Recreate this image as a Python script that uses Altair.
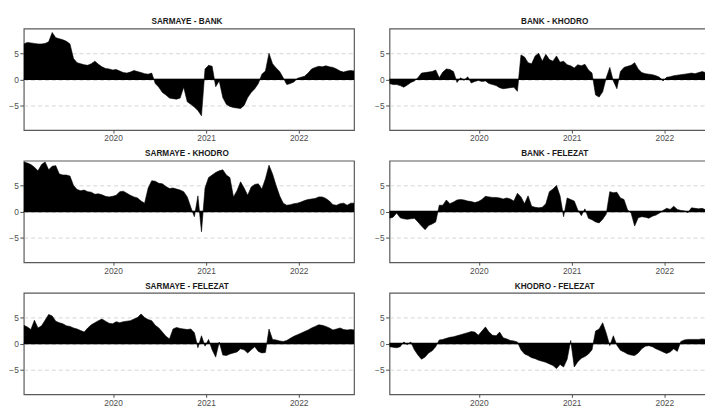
import altair as alt
import pandas as pd

# bi-weekly sampling grid of the series
dates = pd.date_range("2019-01-14", periods=94, freq="14D")

titles = ["SARMAYE - BANK", "BANK - KHODRO", "SARMAYE - KHODRO",
          "BANK - FELEZAT", "SARMAYE - FELEZAT", "KHODRO - FELEZAT"]

sarmaye_bank = [
    6.8, 7.1, 7.0, 6.9, 6.8, 6.8, 6.9, 7.2, 9.0, 8.0,
    7.8, 7.6, 7.3, 6.8, 4.0, 3.2, 3.0, 2.8, 2.7, 3.0,
    3.5, 2.9, 2.4, 2.1, 2.0, 1.8, 1.9, 1.6, 1.3, 1.2,
    1.4, 1.7, 1.5, 1.3, 1.1, 1.0, 1.2, -0.8, -1.5, -2.5,
    -3.0, -3.6, -3.7, -3.8, -3.6, -1.5, -4.3, -4.8, -5.3, -6.0,
    -7.0, 2.0, 2.7, 2.5, -1.4, -0.3, -3.5, -4.8, -5.2, -5.4,
    -5.5, -5.6, -5.0, -3.5, -2.5, -1.8, -0.8, 1.0, 1.6, 5.0,
    3.0, 2.2, 1.5, 0.3, -1.0, -0.8, -0.5, 0.2, 0.4, 0.6,
    1.2, 2.0, 2.3, 2.5, 2.4, 2.6, 2.4, 2.3, 2.0, 1.6,
    1.4, 1.6, 1.7, 1.6]

bank_khodro = [
    -0.8, -1.0, -1.0, -1.2, -1.5, -1.1, -0.6, -0.3, 0.3, 1.2,
    1.3, 1.4, 1.5, 1.8, 0.3, 1.4, 2.0, 1.9, 1.5, -0.6,
    0.3, -0.2, 0.5, -0.7, -0.4, -0.2, -0.4, -0.3, -0.8, -1.0,
    -1.2, -1.6, -1.8, -1.7, -1.6, -1.5, -2.3, 4.7, 4.3, 3.2,
    3.0, 4.5, 5.0, 3.5, 4.8, 3.8, 3.5, 4.5, 3.3, 3.5,
    2.8, 2.6, 2.2, 2.8, 2.6, 2.9, 1.8, 1.2, -3.0, -3.4,
    -2.4, 0.3, 2.3, -0.3, -1.8, 1.5, 2.3, 2.5, 2.7, 3.2,
    2.0, 1.3, 1.1, 1.0, 0.9, 0.7, 0.4, -0.3, 0.4, 0.5,
    0.7, 0.8, 0.9, 1.0, 1.1, 1.2, 1.1, 1.3, 1.5, 1.3,
    0.8, 0.8, 0.8, 0.8]

sarmaye_khodro = [
    9.5, 9.3, 9.0, 8.5, 7.8, 9.0, 9.5, 8.0, 8.7, 8.8,
    7.2, 7.0, 7.0, 6.8, 5.0, 4.2, 4.0, 4.1, 3.8, 3.7,
    3.3, 3.4, 3.2, 2.9, 2.8, 2.9, 3.1, 3.8, 3.9, 3.5,
    3.1, 2.8, 2.6, 2.0, 1.6, 4.5, 5.9, 5.8, 5.4, 5.3,
    4.8, 4.4, 4.5, 4.3, 4.1, 3.8, 2.8, 0.8, -1.0, 3.0,
    -3.9, 4.5, 6.5, 7.0, 7.5, 7.8, 8.0, 7.0, 6.5, 2.8,
    4.0, 5.7, 4.5, 3.1, 4.7, 5.2, 5.3, 4.3, 6.3, 8.9,
    7.2, 5.0, 3.0, 1.6, 1.2, 1.3, 1.5, 1.6, 1.8, 2.1,
    2.3, 2.4, 2.5, 2.8, 2.8, 2.5, 2.0, 1.3, 1.2, 1.5,
    1.6, 1.2, 1.6, 1.6]

bank_felezat = [
    -1.3, -1.1, -0.3, -1.2, -1.4, -1.5, -1.4, -1.3, -2.0, -2.8,
    -3.5, -2.7, -2.4, -2.0, 1.2, 1.2, 2.2, 1.5, 1.8, 2.2,
    2.3, 2.2, 2.0, 1.9, 1.7, 1.9, 2.3, 2.9, 2.8, 2.7,
    2.7, 2.6, 2.4, 2.6, 2.4, 2.0, 3.5, 2.8, 1.5, 3.0,
    1.0, 0.8, 0.7, 0.8, 1.5, 3.8, 4.3, 5.0, 3.0, -1.0,
    2.6, 2.3, 2.0, 0.3, -0.8, 0.5, -1.3, -1.6, -2.0, -2.2,
    -1.5, -0.5, 3.8, 3.6, 3.7, 2.6, 2.3, 0.3, -0.3, -2.8,
    -1.2, -1.0, -1.1, -1.3, -0.9, -0.7, -0.3, 0.2, 0.6, 0.4,
    1.0, 0.4, 0.2, 0.1, -0.2, 0.7, 0.6, 0.5, 0.6, 0.3,
    -0.5, 0.5, 0.5, 0.5]

sarmaye_felezat = [
    3.5, 3.2, 2.7, 4.5, 3.0, 3.4, 4.5, 5.6, 5.3, 4.3,
    4.0, 3.8, 3.4, 3.3, 3.0, 2.8, 2.5, 2.2, 3.0, 3.6,
    4.0, 4.4, 4.7, 4.3, 3.9, 3.8, 4.2, 4.0, 4.2, 4.3,
    4.4, 4.7, 5.0, 5.7, 5.0, 4.6, 4.4, 3.5, 3.0, 2.2,
    1.4, 0.9, 2.8, 3.1, 2.9, 2.8, 2.7, 2.8, 2.1, -0.8,
    1.5, -0.5, 0.8, -1.2, -2.6, 0.3, -2.2, -2.3, -2.0, -1.8,
    -1.6, -1.0, -1.2, -1.8, -1.2, -0.6, -1.5, -1.8, -1.7, 2.8,
    0.8, 0.7, 0.5, 0.4, 0.6, 1.0, 1.4, 1.7, 2.0, 2.3,
    2.6, 3.0, 3.3, 3.6, 3.5, 3.3, 3.0, 2.6, 2.8, 3.0,
    2.7, 2.6, 2.7, 2.6]

khodro_felezat = [
    -0.6, -0.7, -0.8, -0.6, 0.3, -0.2, 0.3, -1.2, -2.2, -3.0,
    -2.6, -1.8, -1.4, -0.6, 0.7, 0.8, 1.0, 1.2, 1.3, 1.5,
    1.7, 1.9, 2.1, 2.3, 2.2, 1.6, 2.4, 3.2, 2.2, 1.6,
    1.5, 2.2, 1.1, 0.9, 0.6, 0.5, 0.3, -1.2, -2.0, -2.3,
    -2.7, -2.9, -3.2, -3.4, -3.6, -3.9, -4.2, -4.8, -4.0, -4.5,
    -3.0, 0.6, -4.5, -3.5, -2.8, -2.5, -2.0, -1.2, 2.4, 2.8,
    4.0, 2.0, -0.4, 1.5, -0.3, -1.3, -1.6, -2.0, -2.2, -2.3,
    -1.8, -1.0, -0.5, -0.4, -0.6, -1.0, -1.3, -1.6, -1.9, -1.6,
    -1.0, -1.5, 0.4, 0.7, 0.8, 0.8, 0.8, 0.8, 0.9, 0.8,
    1.0, 0.9, 0.9, 0.9]

series = [sarmaye_bank, bank_khodro, sarmaye_khodro,
          bank_felezat, sarmaye_felezat, khodro_felezat]

year_ticks = ["2020-01-01", "2021-01-01", "2022-01-01"]
y_ticks = [-5, 0, 5]

FONT = "Liberation Sans"
y_scale = alt.Scale(domain=[-9.75, 9.75], nice=False, zero=False)
# left column shows the full period; right column is cut by the window edge
x_full = alt.Scale(domain=["2019-01-14", "2022-08-07"], nice=False)
x_cut = alt.Scale(domain=["2019-01-14", "2022-06-18"], nice=False)


def panel(title, values, x_scale, width, dx):
    df = pd.DataFrame({"date": dates, "value": values})
    area = alt.Chart(df).mark_area(
        color="black", stroke="black", strokeWidth=0.6, clip=True
    ).encode(
        x=alt.X("date:T", scale=x_scale,
                axis=alt.Axis(values=year_ticks, format="%Y", grid=False,
                              title=None, labelPadding=1)),
        y=alt.Y("value:Q", scale=y_scale,
                axis=alt.Axis(values=y_ticks, title=None, grid=True,
                              gridDash=[4, 3], gridColor="#d4d4d4",
                              gridWidth=1, minExtent=13, maxExtent=13)),
    )
    zero = alt.Chart(pd.DataFrame({"z": [0]})).mark_rule(
        color="black", strokeWidth=1.5
    ).encode(y=alt.Y("z:Q", scale=y_scale))
    return alt.layer(area, zero).properties(
        width=width, height=103,
        title=alt.TitleParams(title, fontSize=8.3, fontWeight="bold",
                              font=FONT, color="#1a1a1a", offset=3,
                              anchor="middle", frame="group", dx=dx),
    )


rows = []
for r in range(3):
    rows.append(alt.hconcat(
        panel(titles[2 * r], series[2 * r], x_full, 335, -2),
        panel(titles[2 * r + 1], series[2 * r + 1], x_cut, 322, 6.5),
        spacing=18))

chart = alt.vconcat(*rows, spacing=5).properties(
    padding={"left": 0, "top": 6, "right": -4, "bottom": 0}
).configure_view(
    stroke="#5a5a5a", strokeWidth=1.2
).configure_axis(
    labelFont=FONT, labelFontSize=8.5, labelColor="#4d4d4d",
    domain=False, tickColor="#4d4d4d", tickSize=3, labelPadding=1.5,
    tickWidth=1
).configure_axisY(
    tickSize=4
)

chart.save("out.html", embed_options={"renderer": "svg", "actions": False})
